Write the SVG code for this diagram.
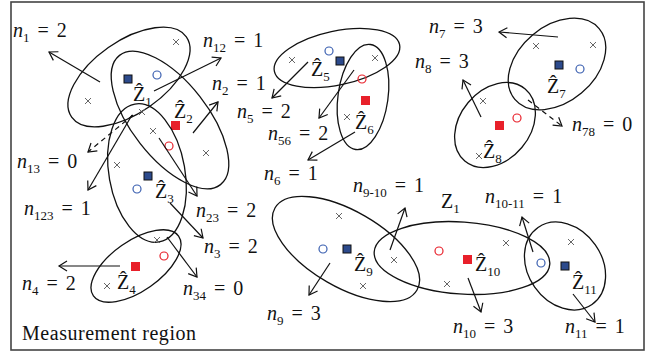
<svg xmlns="http://www.w3.org/2000/svg" width="651" height="356" viewBox="0 0 651 356">
<defs>
<style>
.fr{fill:#fff;stroke:#444;stroke-width:1.6}
.el{fill:none;stroke:#111;stroke-width:1.3}
.ar{fill:none;stroke:#111;stroke-width:1.2;marker-end:url(#ah)}
.da{stroke-dasharray:5 4}
.x{stroke:#555;stroke-width:0.9;fill:none}
.bs{fill:#2c4a8c;stroke:#111;stroke-width:1}
.rs{fill:#e8202a}
.bc{fill:none;stroke:#3a5fb0;stroke-width:1.2}
.rc{fill:none;stroke:#e8202a;stroke-width:1.2}
text{font-family:"Liberation Serif","DejaVu Serif",serif;font-size:20px;fill:#111;word-spacing:3px}
.i{font-style:italic}
.s{font-size:13px;font-style:normal}
</style>
<marker id="ah" markerUnits="userSpaceOnUse" markerWidth="14" markerHeight="14" refX="9" refY="6" orient="auto">
<path d="M1,1 L9,6 L1,11" fill="none" stroke="#111" stroke-width="1.2"/>
</marker>
<path id="cx" d="M-3,-3 L3,3 M-3,3 L3,-3"/>
</defs>
<rect class="fr" x="11" y="2" width="633" height="348"/>
<text x="22" y="340" style="word-spacing:0" textLength="174">Measurement region</text>

<g id="z1">
<ellipse class="el" cx="129" cy="77" rx="70" ry="36" transform="rotate(-35 129 77)"/>
<rect class="bs" x="124" y="75" width="8" height="8"/>
<circle class="bc" cx="157" cy="75" r="4"/>
<use href="#cx" class="x" x="176" y="42"/>
<use href="#cx" class="x" x="88" y="101"/>
<text x="133" y="101">Ẑ<tspan class="s" dy="5">1</tspan></text>
</g>
<g id="z2">
<ellipse class="el" cx="170" cy="120" rx="82" ry="38" transform="rotate(52 170 120)"/>
<rect class="rs" x="171" y="121" width="9" height="9"/>
<circle class="rc" cx="169" cy="146" r="4"/>
<use href="#cx" class="x" x="142" y="112"/>
<use href="#cx" class="x" x="206" y="153"/>
<text x="174" y="118">Ẑ<tspan class="s" dy="5">2</tspan></text>
</g>
<g id="z3">
<ellipse class="el" cx="147" cy="173" rx="70" ry="38" transform="rotate(80 147 173)"/>
<rect class="bs" x="144" y="172" width="8" height="8"/>
<circle class="bc" cx="137" cy="189" r="4"/>
<use href="#cx" class="x" x="153" y="131"/>
<use href="#cx" class="x" x="117" y="165"/>
<text x="155" y="198">Ẑ<tspan class="s" dy="5">3</tspan></text>
</g>
<g id="z4">
<ellipse class="el" cx="136" cy="266" rx="52" ry="25" transform="rotate(-35 136 266)"/>
<rect class="rs" x="131" y="262" width="9" height="9"/>
<circle class="rc" cx="164" cy="256" r="4"/>
<use href="#cx" class="x" x="107" y="286"/>
<use href="#cx" class="x" x="157" y="240"/>
<text x="117" y="289">Ẑ<tspan class="s" dy="5">4</tspan></text>
</g>
<g id="z5">
<ellipse class="el" cx="337" cy="58" rx="64" ry="27" transform="rotate(-12 337 58)"/>
<rect class="bs" x="336" y="57" width="8" height="8"/>
<circle class="bc" cx="329" cy="51" r="4"/>
<use href="#cx" class="x" x="292" y="60"/>
<text x="311" y="76">Ẑ<tspan class="s" dy="5">5</tspan></text>
</g>
<g id="z6">
<ellipse class="el" cx="363" cy="97" rx="25" ry="53" transform="rotate(8 363 97)"/>
<rect class="rs" x="361" y="96" width="9" height="9"/>
<circle class="rc" cx="362" cy="79" r="4"/>
<use href="#cx" class="x" x="375" y="58"/>
<use href="#cx" class="x" x="347" y="117"/>
<text x="355" y="129">Ẑ<tspan class="s" dy="5">6</tspan></text>
</g>
<g id="z7">
<ellipse class="el" cx="557" cy="64" rx="55" ry="38" transform="rotate(-40 557 64)"/>
<rect class="bs" x="555" y="61" width="8" height="8"/>
<circle class="bc" cx="580" cy="69" r="4"/>
<use href="#cx" class="x" x="536" y="46"/>
<use href="#cx" class="x" x="593" y="45"/>
<text x="547" y="93">Ẑ<tspan class="s" dy="5">7</tspan></text>
</g>
<g id="z8">
<ellipse class="el" cx="495" cy="125" rx="47" ry="35" transform="rotate(-50 495 125)"/>
<rect class="rs" x="495" y="121" width="9" height="9"/>
<circle class="rc" cx="517" cy="118" r="4"/>
<use href="#cx" class="x" x="483" y="101"/>
<use href="#cx" class="x" x="479" y="156"/>
<text x="483" y="158">Ẑ<tspan class="s" dy="5">8</tspan></text>
</g>
<g id="z9">
<ellipse class="el" cx="346" cy="249" rx="82" ry="38" transform="rotate(30 346 249)"/>
<rect class="bs" x="343" y="245" width="8" height="8"/>
<circle class="bc" cx="323" cy="249" r="4"/>
<use href="#cx" class="x" x="339" y="216"/>
<use href="#cx" class="x" x="363" y="286"/>
<use href="#cx" class="x" x="394" y="260"/>
<text x="354" y="271">Ẑ<tspan class="s" dy="5">9</tspan></text>
</g>
<g id="z10">
<ellipse class="el" cx="462" cy="258" rx="88" ry="36" transform="rotate(4 462 258)"/>
<rect class="rs" x="463" y="255" width="9" height="9"/>
<circle class="rc" cx="439" cy="251" r="4"/>
<use href="#cx" class="x" x="506" y="243"/>
<use href="#cx" class="x" x="447" y="284"/>
<text x="475" y="271">Ẑ<tspan class="s" dy="5">10</tspan></text>
<text x="441" y="208">Z<tspan class="s" dy="5">1</tspan></text>
</g>
<g id="z11">
<ellipse class="el" cx="565" cy="266" rx="47" ry="37" transform="rotate(55 565 266)"/>
<rect class="bs" x="561" y="262" width="8" height="8"/>
<circle class="bc" cx="541" cy="263" r="4"/>
<use href="#cx" class="x" x="571" y="242"/>
<text x="572" y="289">Ẑ<tspan class="s" dy="5">11</tspan></text>
</g>

<g id="connectors">
<line class="ar" x1="100" y1="82" x2="49" y2="52"/>
<line class="ar" x1="154" y1="91" x2="221" y2="58"/>
<line class="ar" x1="193" y1="133" x2="218" y2="102"/>
<line class="ar da" x1="133" y1="115" x2="88" y2="152"/>
<line class="ar" x1="132" y1="115" x2="88" y2="190"/>
<line class="ar" x1="159" y1="138" x2="197" y2="196"/>
<line class="ar" x1="170" y1="203" x2="203" y2="238"/>
<line class="ar" x1="167" y1="237" x2="197" y2="277"/>
<line class="ar" x1="120" y1="266" x2="59" y2="266"/>
<line class="ar" x1="308" y1="62" x2="272" y2="98"/>
<line class="ar" x1="354" y1="70" x2="319" y2="118"/>
<line class="ar" x1="355" y1="132" x2="308" y2="160"/>
<line class="ar" x1="558" y1="37" x2="499" y2="32"/>
<line class="ar" x1="481" y1="117" x2="463" y2="80"/>
<line class="ar da" x1="528" y1="100" x2="562" y2="126"/>
<line class="ar" x1="330" y1="263" x2="309" y2="295"/>
<line class="ar" x1="390" y1="250" x2="405" y2="208"/>
<line class="ar" x1="468" y1="278" x2="481" y2="312"/>
<line class="ar" x1="533" y1="252" x2="522" y2="217"/>
<line class="ar" x1="573" y1="294" x2="595" y2="322"/>
</g>

<g id="labels">
<text x="13" y="37"><tspan class="i">n</tspan><tspan class="s" dy="5">1</tspan><tspan dy="-5"> = 2</tspan></text>
<text x="203" y="47"><tspan class="i">n</tspan><tspan class="s" dy="5">12</tspan><tspan dy="-5"> = 1</tspan></text>
<text x="212" y="90"><tspan class="i">n</tspan><tspan class="s" dy="5">2</tspan><tspan dy="-5"> = 1</tspan></text>
<text x="17" y="168"><tspan class="i">n</tspan><tspan class="s" dy="5">13</tspan><tspan dy="-5"> = 0</tspan></text>
<text x="24" y="215"><tspan class="i">n</tspan><tspan class="s" dy="5">123</tspan><tspan dy="-5"> = 1</tspan></text>
<text x="196" y="217"><tspan class="i">n</tspan><tspan class="s" dy="5">23</tspan><tspan dy="-5"> = 2</tspan></text>
<text x="204" y="253"><tspan class="i">n</tspan><tspan class="s" dy="5">3</tspan><tspan dy="-5"> = 2</tspan></text>
<text x="183" y="295"><tspan class="i">n</tspan><tspan class="s" dy="5">34</tspan><tspan dy="-5"> = 0</tspan></text>
<text x="22" y="290"><tspan class="i">n</tspan><tspan class="s" dy="5">4</tspan><tspan dy="-5"> = 2</tspan></text>
<text x="237" y="118"><tspan class="i">n</tspan><tspan class="s" dy="5">5</tspan><tspan dy="-5"> = 2</tspan></text>
<text x="268" y="140"><tspan class="i">n</tspan><tspan class="s" dy="5">56</tspan><tspan dy="-5"> = 2</tspan></text>
<text x="264" y="180"><tspan class="i">n</tspan><tspan class="s" dy="5">6</tspan><tspan dy="-5"> = 1</tspan></text>
<text x="429" y="33"><tspan class="i">n</tspan><tspan class="s" dy="5">7</tspan><tspan dy="-5"> = 3</tspan></text>
<text x="415" y="68"><tspan class="i">n</tspan><tspan class="s" dy="5">8</tspan><tspan dy="-5"> = 3</tspan></text>
<text x="572" y="131"><tspan class="i">n</tspan><tspan class="s" dy="5">78</tspan><tspan dy="-5"> = 0</tspan></text>
<text x="353" y="192"><tspan class="i">n</tspan><tspan class="s" dy="5">9-10</tspan><tspan dy="-5"> = 1</tspan></text>
<text x="485" y="203"><tspan class="i">n</tspan><tspan class="s" dy="5">10-11</tspan><tspan dy="-5"> = 1</tspan></text>
<text x="267" y="320"><tspan class="i">n</tspan><tspan class="s" dy="5">9</tspan><tspan dy="-5"> = 3</tspan></text>
<text x="453" y="333"><tspan class="i">n</tspan><tspan class="s" dy="5">10</tspan><tspan dy="-5"> = 3</tspan></text>
<text x="565" y="333"><tspan class="i">n</tspan><tspan class="s" dy="5">11</tspan><tspan dy="-5"> = 1</tspan></text>
</g>
</svg>
